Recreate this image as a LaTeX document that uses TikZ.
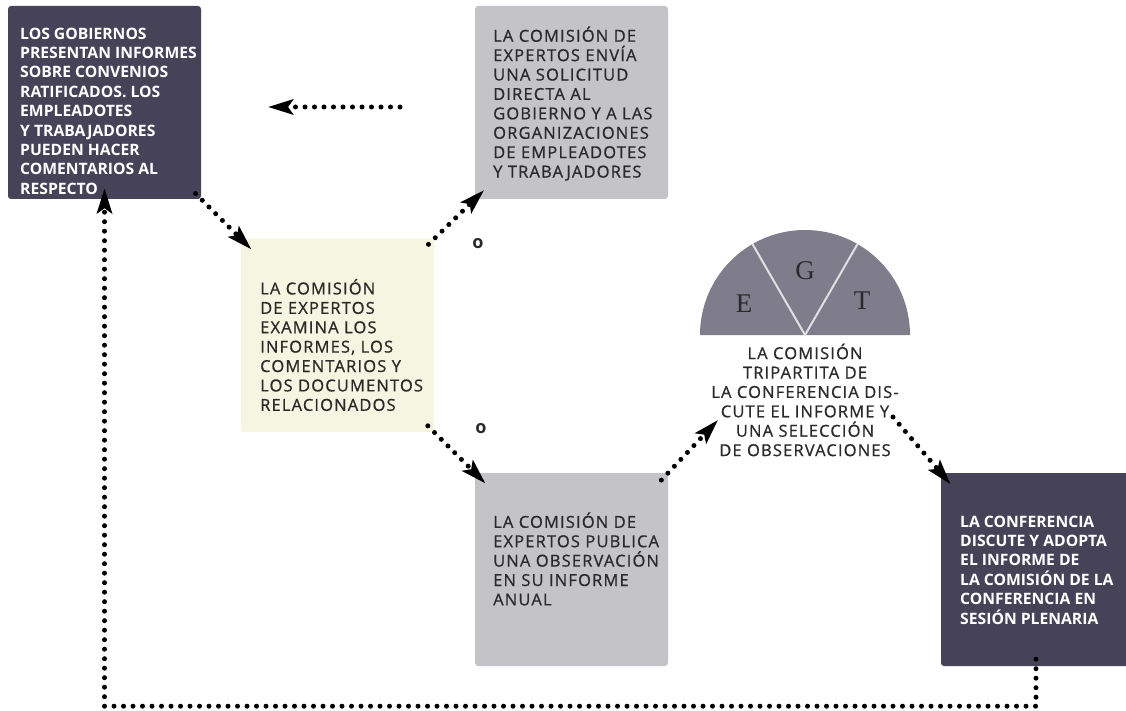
\documentclass[tikz,border=0pt]{standalone}
\usepackage{fontspec}
\newfontfamily\regfont[LetterSpace=7,FakeBold=0.8]{Open Sans}
\newfontfamily\boldfont{Open Sans}
\newfontfamily\letrafont{Liberation Serif}
\usetikzlibrary{arrows.meta}

\definecolor{oscuro}{HTML}{464358}
\definecolor{gris}{HTML}{C4C3C8}
\definecolor{crema}{HTML}{F6F5E1}
\definecolor{semi}{HTML}{7F7D8B}
\definecolor{tinta}{HTML}{2A2A2A}

\tikzset{
  caja/.style={rectangle, rounded corners=3pt, minimum width=193pt, minimum height=193pt, inner sep=0pt},
  cajaoscura/.style={caja, fill=oscuro},
  cajagris/.style={caja, fill=gris},
  cajacrema/.style={caja, fill=crema},
  textoclaro/.style={anchor=west, align=left, inner sep=0pt, text=white, font=\boldfont\bfseries\fontsize{15.7}{19.4}\selectfont},
  textooscuro/.style={anchor=west, align=left, inner sep=0pt, text=tinta, font=\regfont\fontsize{16.5}{19.4}\selectfont},
  flujo/.style={line width=5pt, line cap=round, dash pattern=on 0pt off 9.5pt, -{Stealth[length=25pt,width=15pt,inset=5pt]}},
  letra/.style={text=tinta, font=\letrafont\fontsize{27}{27}\selectfont},
  opcion/.style={text=tinta, font=\boldfont\bfseries\fontsize{18}{18}\selectfont}
}

\begin{document}
\begin{tikzpicture}[x=1pt,y=-1pt]
\useasboundingbox (0,0) rectangle (1126,711);

% cajas
\node[cajaoscura] (gob) at (104.5,102.5) {};
\node[cajagris] (solicitud) at (571.5,102.5) {};
\node[cajacrema] (examina) at (337.5,335.5) {};
\node[cajagris] (publica) at (571.5,569.5) {};
\node[cajaoscura, minimum width=190pt] (conferencia) at (1036,569.5) {};

% textos
\node[textoclaro] (gobtexto) at (20,111) {LOS GOBIERNOS\\PRESENTAN INFORMES\\SOBRE CONVENIOS\\RATIFICADOS. LOS\\EMPLEADOTES\\Y TRABAJADORES\\PUEDEN HACER\\COMENTARIOS AL\\RESPECTO};
\node[textooscuro] (solicitudtexto) at (493,103.5) {LA COMISIÓN DE\\EXPERTOS ENVÍA\\UNA SOLICITUD\\DIRECTA AL\\GOBIERNO Y A LAS\\ORGANIZACIONES\\DE EMPLEADOTES\\Y TRABAJADORES};
\node[textooscuro] (examinatexto) at (260,345) {LA COMISIÓN\\DE EXPERTOS\\EXAMINA LOS\\INFORMES, LOS\\COMENTARIOS Y\\LOS DOCUMENTOS\\RELACIONADOS};
\node[textooscuro] (publicatexto) at (493,559) {LA COMISIÓN DE\\EXPERTOS PUBLICA\\UNA OBSERVACIÓN\\EN SU INFORME\\ANUAL};
\node[textoclaro] (conferenciatexto) at (960,570) {LA CONFERENCIA\\DISCUTE Y ADOPTA\\EL INFORME DE\\LA COMISIÓN DE LA\\CONFERENCIA EN\\SESIÓN PLENARIA};

% comision tripartita
\fill[semi] (910,335) arc (0:-180:105) -- cycle;
\draw[white!88!black, line width=2pt] (805,335) -- ++(-120:105);
\draw[white!88!black, line width=2pt] (805,335) -- ++(-60:105);
\node[letra] (e) at (744,304) {E};
\node[letra] (g) at (805,271) {G};
\node[letra] (t) at (862,301) {T};
\node[textooscuro, anchor=center, align=center] (tripartita) at (805,400) {LA COMISIÓN\\TRIPARTITA DE\\LA CONFERENCIA DIS-\\CUTE EL INFORME Y\\UNA SELECCIÓN\\DE OBSERVACIONES};

\node[opcion] (o1) at (478,244) {o};
\node[opcion] (o2) at (481,429) {o};

\coordinate (libre) at (400,107);
\coordinate (punta) at (268,107);
\coordinate (haciatri) at (718,420);
\coordinate (desdetri) at (893,417);

% flechas
\draw[flujo, shorten <=-8pt, shorten >=-15pt] (gob.south east) -- (examina.north west);
\draw[flujo, shorten <=-8pt, shorten >=-13pt] (examina.north east) -- (solicitud.south west);
\draw[flujo] (libre) -- (punta);
\draw[flujo, shorten <=-9pt, shorten >=-15pt] (examina.south east) -- (publica.north west);
\draw[flujo, shorten <=-10pt] (publica.north east) -- (haciatri);
\draw[flujo, shorten >=-15pt] (desdetri) -- (conferencia.north west);
\draw[flujo, shorten <=-7pt, shorten >=-11pt] (conferencia.south) -- ++(0,40) -| (gob.south);
\end{tikzpicture}
\end{document}
